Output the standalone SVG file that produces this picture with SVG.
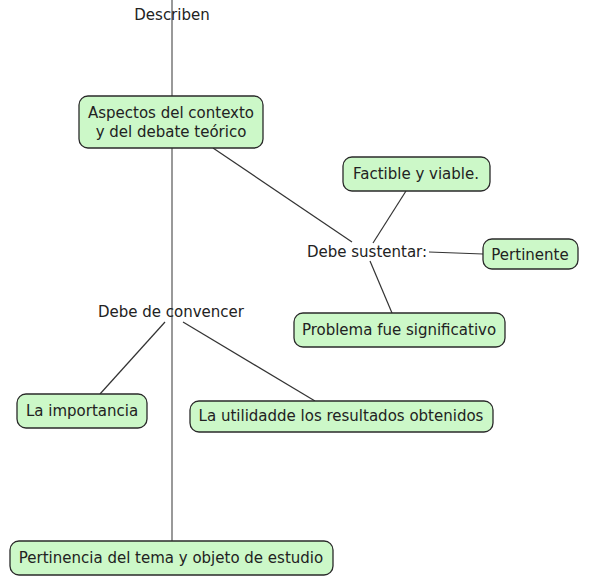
<svg xmlns="http://www.w3.org/2000/svg" width="591" height="580" viewBox="0 0 591 580">
<style>
.n rect{fill:#ccf8c8;stroke:#2a2a2a;stroke-width:1.3}
text{font-family:"DejaVu Sans",Verdana,sans-serif;font-size:15px;fill:#222;text-anchor:middle}
.c line{stroke:#333;stroke-width:1.2}
.c line.v{stroke:#777;stroke-width:1.5}
</style>
<rect width="591" height="580" fill="#fff"/>
<g class="c">
<line class="v" x1="172" y1="0" x2="172" y2="541"/>
<line x1="213" y1="148" x2="352" y2="242"/>
<line x1="406" y1="191" x2="373" y2="243"/>
<line x1="429" y1="252" x2="483" y2="254"/>
<line x1="370" y1="261" x2="392" y2="313"/>
<line x1="165" y1="322" x2="100" y2="394"/>
<line x1="183" y1="322" x2="315" y2="401"/>
</g>
<g id="describen"><text x="172" y="20">Describen</text></g>
<g id="aspectos" class="n"><rect x="79" y="96" width="184" height="52" rx="9"/><text x="171" y="118">Aspectos del contexto</text><text x="171" y="137">y del debate teórico</text></g>
<g id="factible" class="n"><rect x="343" y="157" width="147" height="34" rx="9"/><text x="416" y="179">Factible y viable.</text></g>
<g id="sustentar"><text x="367" y="257">Debe sustentar:</text></g>
<g id="pertinente" class="n"><rect x="483" y="239" width="95" height="30" rx="9"/><text x="530" y="260">Pertinente</text></g>
<g id="problema" class="n"><rect x="294" y="313" width="211" height="34" rx="9"/><text x="399" y="335">Problema fue significativo</text></g>
<g id="convencer"><text x="171" y="317">Debe de convencer</text></g>
<g id="importancia" class="n"><rect x="17" y="394" width="130" height="34" rx="9"/><text x="82" y="416">La importancia</text></g>
<g id="utilidad" class="n"><rect x="190" y="401" width="303" height="31" rx="9"/><text x="341" y="421">La utilidadde los resultados obtenidos</text></g>
<g id="pertinencia" class="n"><rect x="10" y="541" width="323" height="34" rx="9"/><text x="171" y="563">Pertinencia del tema y objeto de estudio</text></g>
</svg>
